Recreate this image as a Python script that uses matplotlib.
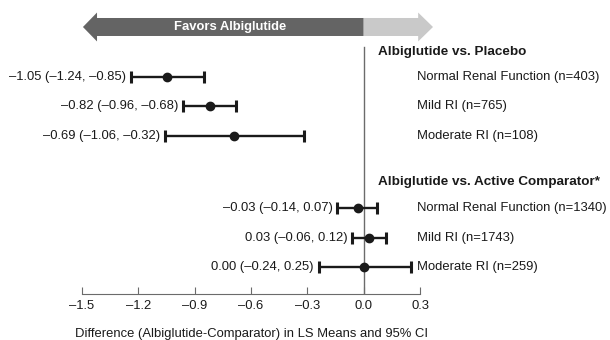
import matplotlib.pyplot as plt
from matplotlib.patches import Polygon

plt.rcParams['font.family'] = ['Liberation Sans', 'DejaVu Sans']

# LS mean differences with 95% CI
groups = ["Albiglutide vs. Placebo", "Albiglutide vs. Active Comparator*"]
labels = ["Normal Renal Function (n=403)", "Mild RI (n=765)", "Moderate RI (n=108)",
          "Normal Renal Function (n=1340)", "Mild RI (n=1743)", "Moderate RI (n=259)"]
est = [-1.05, -0.82, -0.69, -0.03, 0.03, 0.00]
lo = [-1.24, -0.96, -1.06, -0.14, -0.06, -0.24]
hi = [-0.85, -0.68, -0.32, 0.07, 0.12, 0.25]
ticks = [-1.5, -1.2, -0.9, -0.6, -0.3, 0.0, 0.3]

# row positions (top to bottom), group headers above each block
pos = [0, 1, 2, 4.45, 5.45, 6.45]
head_pos = [-0.85, 3.55]

ink = '#1a1a1a'


def dash(v, nd=2):
    return f"{v:.{nd}f}".replace('-', '\u2013')


fig = plt.figure(figsize=(6.1, 3.4), dpi=100)
ax = fig.add_axes([0, 46 / 340, 1, 294 / 340])
ax.set_xlim(-363.7 / 187.8, (610 - 363.7) / 187.8)
ax.set_ylim(7.356, -2.61)

# zero reference line
ax.axvline(0, ymin=0, ymax=247 / 294, color='#6b6b6b', lw=1, zorder=1)

ax.errorbar(est, pos, xerr=[[e - l for e, l in zip(est, lo)], [h - e for e, h in zip(est, hi)]],
            fmt='o', color=ink, ms=6, elinewidth=1.7, capsize=4.4, capthick=2.2, zorder=3)

for e, l, h, p, lab in zip(est, lo, hi, pos, labels):
    ax.annotate(f"{dash(e)} ({dash(l)}, {dash(h)})", (l, p), xytext=(-5, 0),
                textcoords='offset pixels', ha='right', va='center', fontsize=9.4, color=ink)
    ax.text(0.284, p, lab, ha='left', va='center', fontsize=9.4, color=ink)

for g, p in zip(groups, head_pos):
    ax.text(0.076, p, g, ha='left', va='center', fontsize=9.7, fontweight='bold', color=ink)

# "Favors" arrow
yc, bh, hh = -1.695, 0.305, 0.49
left = Polygon([(-1.495, yc), (-1.42, yc - hh), (-1.42, yc - bh), (0, yc - bh),
                (0, yc + bh), (-1.42, yc + bh), (-1.42, yc + hh)],
               closed=True, color='#646464', lw=0)
right = Polygon([(0, yc - bh), (0.29, yc - bh), (0.29, yc - hh), (0.369, yc),
                 (0.29, yc + hh), (0.29, yc + bh), (0, yc + bh)],
                closed=True, color='#c9c9c9', lw=0)
ax.add_patch(left)
ax.add_patch(right)
ax.text(-0.71, yc, "Favors Albiglutide", ha='center', va='center', fontsize=9.4,
        fontweight='bold', color='white')

# x axis
for s in ['top', 'left', 'right']:
    ax.spines[s].set_visible(False)
ax.spines['bottom'].set_bounds(-1.5, 0.3)
ax.spines['bottom'].set_color('#6b6b6b')
ax.set_yticks([])
ax.set_xticks(ticks)
ax.set_xticklabels([dash(t, 1) for t in ticks])
ax.tick_params(axis='x', direction='in', length=5, width=0.8, color='#6b6b6b',
               pad=4, labelsize=9.4, labelcolor=ink)
ax.text(-0.6, -40 / 294, "Difference (Albiglutide-Comparator) in LS Means and 95% CI",
        transform=ax.get_xaxis_transform(), ha='center', va='center', fontsize=9.4, color=ink)

fig.savefig('out.png', dpi=100)
